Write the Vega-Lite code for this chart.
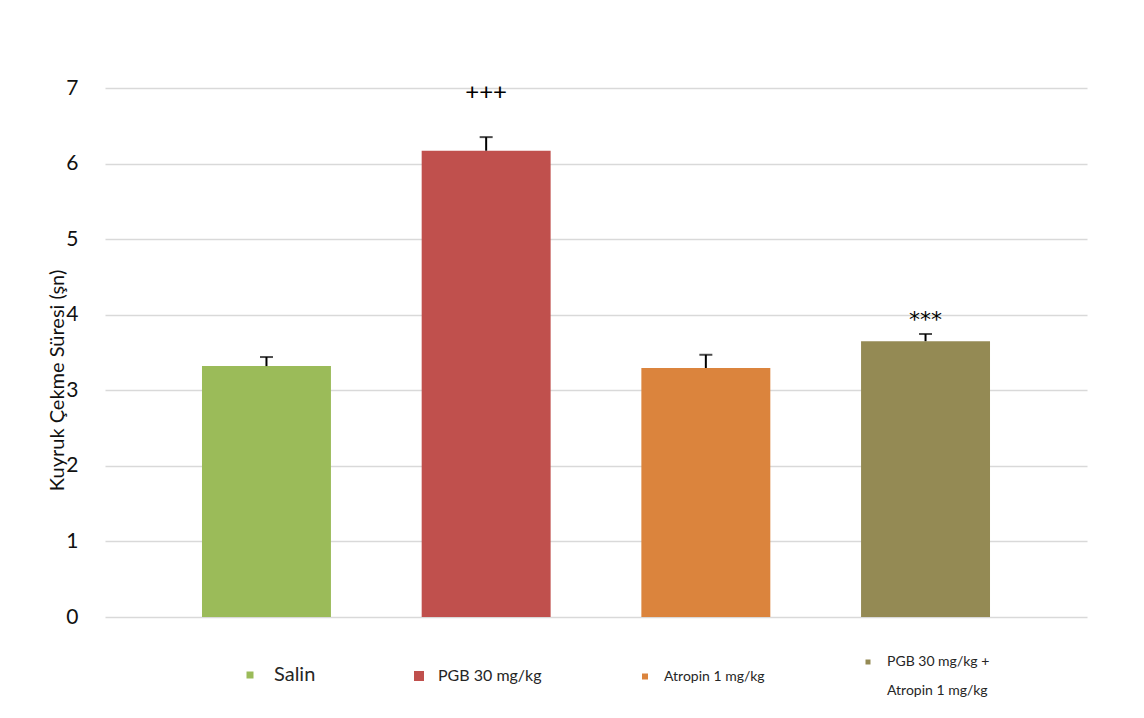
{
  "$schema": "https://vega.github.io/schema/vega-lite/v6.json",
  "width": 982,
  "height": 529,
  "autosize": {"type": "none"},
  "padding": {"left": 105, "top": 88, "right": 57, "bottom": 101},
  "background": "white",
  "config": {
    "font": "Lato",
    "view": {"stroke": null},
    "style": {"guide-label": {"lineHeight": 29}}
  },
  "data": {
    "values": [
      {"group": "Salin", "mean": 3.32, "upper": 3.44, "sig": ""},
      {"group": "PGB 30 mg/kg", "mean": 6.17, "upper": 6.35, "sig": "+++"},
      {"group": "Atropin 1 mg/kg", "mean": 3.295, "upper": 3.47, "sig": ""},
      {"group": "PGB 30 mg/kg + Atropin 1 mg/kg", "mean": 3.65, "upper": 3.745, "sig": "***"}
    ]
  },
  "encoding": {
    "x": {
      "field": "group",
      "type": "nominal",
      "sort": null,
      "scale": {"paddingInner": 0.413, "paddingOuter": 0.4415},
      "axis": null
    }
  },
  "layer": [
    {
      "mark": {"type": "bar"},
      "encoding": {
        "y": {
          "field": "mean",
          "type": "quantitative",
          "scale": {"domain": [0, 7], "nice": false},
          "axis": {
            "values": [0, 1, 2, 3, 4, 5, 6, 7],
            "format": "d",
            "grid": true,
            "gridColor": "#D9D9D9",
            "gridWidth": 1.5,
            "domain": false,
            "ticks": false,
            "labelFontSize": 21,
            "labelPadding": 27,
            "labelColor": "#111111",
            "title": "Kuyruk Çekme Süresi (şn)",
            "titleFontSize": 20,
            "titleFontWeight": "normal",
            "titleColor": "#111111",
            "titleX": -48,
            "titleY": 292,
            "titleBaseline": "middle",
            "titleAngle": -90
          }
        },
        "color": {
          "field": "group",
          "type": "nominal",
          "sort": null,
          "scale": {
            "domain": ["Salin", "PGB 30 mg/kg", "Atropin 1 mg/kg", "PGB 30 mg/kg + Atropin 1 mg/kg"],
            "range": ["#9BBB59", "#C0504D", "#DB843D", "#948A54"]
          },
          "legend": {
            "title": null,
            "orient": "none",
            "direction": "horizontal",
            "columns": 4,
            "legendX": 138,
            "legendY": 567,
            "symbolType": "square",
            "symbolSize": 64,
            "symbolStrokeWidth": 0,
            "labelFontSize": 14,
            "labelColor": "#262626",
            "labelOffset": 12,
            "columnPadding": 96,
            "labelLimit": 300,
            "labelExpr": "datum.label == 'PGB 30 mg/kg + Atropin 1 mg/kg' ? ['PGB 30 mg/kg +', 'Atropin 1 mg/kg'] : datum.label",
            "encode": {
              "labels": {
                "update": {
                  "fontSize": {"signal": "datum.value === 'Salin' ? 20 : datum.value === 'PGB 30 mg/kg' ? 16 : 14"},
                  "dx": {"signal": "datum.value === 'Salin' ? 5 : 0"}
                }
              },
              "symbols": {
                "update": {
                  "size": {"signal": "datum.value === 'Salin' ? 49 : datum.value === 'PGB 30 mg/kg' ? 100 : datum.value === 'Atropin 1 mg/kg' ? 36 : 25"}
                }
              }
            }
          }
        }
      }
    },
    {
      "mark": {"type": "rule", "color": "black", "strokeWidth": 2},
      "encoding": {
        "y": {"field": "mean", "type": "quantitative"},
        "y2": {"field": "upper"}
      }
    },
    {
      "mark": {"type": "tick", "color": "black", "thickness": 2, "size": 13},
      "encoding": {
        "y": {"field": "upper", "type": "quantitative"}
      }
    },
    {
      "transform": [{"filter": "datum.sig == '+++'"}],
      "mark": {"type": "text", "fontSize": 24, "color": "#000000", "baseline": "middle", "dy": -44},
      "encoding": {
        "y": {"field": "upper", "type": "quantitative"},
        "text": {"field": "sig"}
      }
    },
    {
      "transform": [{"filter": "datum.sig == '***'"}],
      "mark": {"type": "text", "font": "DejaVu Sans", "fontSize": 22, "color": "#000000", "baseline": "middle", "dy": -14},
      "encoding": {
        "y": {"field": "upper", "type": "quantitative"},
        "text": {"field": "sig"}
      }
    }
  ]
}
